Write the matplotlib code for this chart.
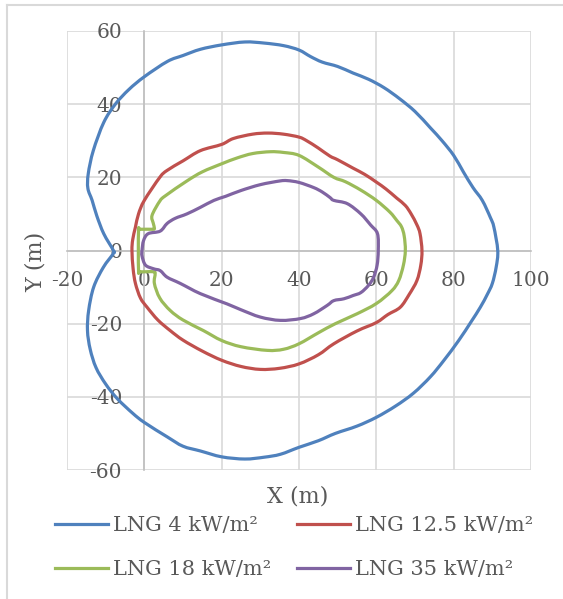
import numpy as np
import matplotlib
matplotlib.use("Agg")
import matplotlib.pyplot as plt
from matplotlib.lines import Line2D
from matplotlib.path import Path
from matplotlib.patches import PathPatch

# thermal radiation contours (x, y in m), traced counterclockwise from the rightmost point
x_4 = [91.4, 90.4, 89.5, 87.4, 85, 82.5, 80, 77, 74, 70, 66, 62, 58, 54, 50, 46, 43, 40, 36, 31, 26,
       20, 14.5, 10, 6, 0, -4, -7.5, -10.5, -13.2, -14.5, -14.6, -13.5, -12.3, -10.5, -8,
       -8, -10.6, -13.1, -14.4, -14.7, -14, -12.5, -10, -7, -3, 0, 6, 10, 14.5, 20, 26, 31, 35.2,
       40, 45, 49.4, 55, 60, 65, 69.6, 74, 77.5, 81.3, 84.5, 86.9, 88.7, 90, 91, 91.4]
y_4 = [0, 6.4, 9, 13.7, 17.2, 21.5, 26, 30, 33.5, 38, 41.5, 44.5, 46.8, 48.5, 50.3, 51.5, 53, 54.8, 56, 56.7, 57,
       56.2, 55, 53.3, 51.7, 47.5, 44, 40, 35, 27.3, 21, 17, 13.7, 9.5, 4.6, 0,
       -0.8, -4.6, -10, -16.4, -21.9, -27, -32, -36.5, -40.5, -44.5, -47, -51, -53.5, -54.8, -56.4, -57, -56.5, -55.7,
       -53.8, -52, -50, -48, -45.6, -42.5, -39, -34.5, -30, -24.6, -19.5, -15.5, -12, -9, -4.5, 0]

x_12 = [71.8, 71.3, 70.5, 69, 67.5, 65.3, 62.5, 60, 57, 54, 50, 48, 45, 42, 40, 36, 32, 28, 23, 20, 14.5,
        10, 5.9, 4, 0, -1.5, -2.3, -3, -3.2,
        -2.9, -2.3, -1, 0.7, 3.5, 6.7, 10, 15, 20, 25, 30, 35, 40, 45, 49, 55, 60, 63, 66.2, 68.5, 70.5, 71.5, 71.8]
y_12 = [0, 4.6, 7, 10, 12.3, 14.3, 16.8, 18.7, 20.8, 22.5, 24.8, 25.8, 28, 30, 31, 31.8, 32.1, 31.8, 30.6, 29, 27.3,
        24.5, 21.9, 20, 13.7, 10, 6.4, 3, 0,
        -5, -9, -13, -15.5, -19, -21.9, -24.5, -27.5, -30, -31.7, -32.5, -32.2, -31, -28.5, -25.5, -22, -19.7, -17.5, -15.5, -12, -8.2, -4, 0]

x_18 = [67.5, 67.2, 66.5, 65.3, 63.5, 60, 56, 52, 49, 45, 40, 36, 32.6, 28, 24, 20, 15, 11, 5.5, 4, 2, 2.3, 2.6, 2.2,
        -1.0, -1.5, -1.5, -1.0, 2.3, 2.8, 2.6, 4, 6.7, 10, 15.3, 20, 25, 31.8, 36, 40, 45, 49.4, 55, 60, 64, 65.8, 67, 67.5]
y_18 = [0, 4, 6.5, 8.2, 10.5, 13.7, 16.5, 18.8, 20, 22.8, 26, 26.8, 27, 26.5, 25.3, 23.7, 21.5, 19, 15, 13.5, 9.6, 7.5, 6.1, 5.8,
        5.8, 5.3, -5.3, -5.8, -5.8, -6.3, -9, -13, -16.4, -19, -21.9, -24.6, -26.3, -27.3, -27, -25.5, -22.5, -20, -17.3, -14.5, -11, -8.2, -4, 0]

x_35 = [60.5, 60.3, 58.5, 56, 52.5, 49, 48, 46, 43.8, 40, 37, 35, 30, 25, 21, 18, 14.5, 11, 8, 5.9, 4.1, 1, -0.2, -0.6,
        -0.6, 0.3, 2.4, 4.1, 5.9, 9.3, 14.5, 21.4, 25, 30, 35.2, 40.4, 43.8, 47.3, 49, 51.6, 54, 56, 58, 59.3, 60.2, 60.5]
y_35 = [0, 4.6, 7, 10, 12.8, 13.7, 14.5, 16, 17.2, 18.6, 19.1, 19, 18, 16.4, 14.8, 13.7, 11.8, 10, 8.8, 7.4, 5.3, 4.6, 2.7, 0,
        -1.5, -4, -5, -5.5, -7.3, -9, -11.8, -14.6, -16.2, -18.2, -19.1, -18.6, -17.3, -15, -13.7, -13.2, -12.3, -11.5, -9.5, -7.3, -4, 0]

labels = ["LNG 4 kW/m²", "LNG 12.5 kW/m²", "LNG 18 kW/m²", "LNG 35 kW/m²"]
colors = ["#4F81BD", "#C0504D", "#9BBB59", "#8064A2"]
x_ticks = [-20, 0, 20, 40, 60, 80, 100]
y_ticks = [-60, -40, -20, 0, 20, 40, 60]


def smooth_closed(xs, ys):
    # Excel-style smoothed line: Catmull-Rom segments as cubic Beziers
    pts = np.column_stack([xs, ys])[:-1]
    n = len(pts)
    verts = [pts[0]]
    codes = [Path.MOVETO]
    for i in range(n):
        p0, p1, p2, p3 = pts[i - 1], pts[i], pts[(i + 1) % n], pts[(i + 2) % n]
        verts += [p1 + (p2 - p0) / 6, p2 - (p3 - p1) / 6, p2]
        codes += [Path.CURVE4] * 3
    return Path(verts, codes)


plt.rcParams["font.family"] = ["DejaVu Serif"]
plt.rcParams["axes.unicode_minus"] = False
txt = "#595959"
grid_c = "#D9D9D9"

fig = plt.figure(figsize=(5.63, 5.99), dpi=100)
ax = fig.add_axes([67 / 563, 1 - 470 / 599, 464 / 563, 439 / 599])

handles = []
for xs, ys, c, lab in zip([x_4, x_12, x_18, x_35], [y_4, y_12, y_18, y_35], colors, labels):
    ax.add_patch(PathPatch(smooth_closed(xs, ys), fill=False, edgecolor=c, lw=2.3,
                           joinstyle="round", zorder=3))
    handles.append(Line2D([], [], color=c, lw=2.3, label=lab))

ax.set_xlim(-20, 100)
ax.set_ylim(-60, 60)
ax.set_xticks(x_ticks)
ax.set_yticks(y_ticks)
ax.grid(True, color=grid_c, lw=1.2, zorder=0)
ax.set_axisbelow(True)

for side in ["top", "right"]:
    ax.spines[side].set_visible(False)
ax.spines["left"].set_position(("data", 0))
ax.spines["bottom"].set_position(("data", 0))
for side in ["left", "bottom"]:
    ax.spines[side].set_color("#BFBFBF")
    ax.spines[side].set_linewidth(1.2)
ax.tick_params(axis="both", length=0, labelsize=14.5, labelcolor=txt)
ax.tick_params(axis="x", pad=15)
ax.tick_params(axis="y", pad=16)

fig.text(298 / 563, 1 - 497 / 599, "X (m)", ha="center", va="center", fontsize=16, color=txt)
fig.text(36 / 563, 1 - 262 / 599, "Y (m)", ha="center", va="center", rotation=90, fontsize=16, color=txt)

# legend, filled row by row
order = [0, 2, 1, 3]
fig.legend([handles[i] for i in order], [labels[i] for i in order], ncol=2,
           loc="upper left", bbox_to_anchor=(55 / 563, 1 - 516 / 599), frameon=False,
           fontsize=15, labelcolor=txt, handlelength=2.55, handletextpad=0.25,
           columnspacing=1.2, labelspacing=1.2, borderpad=0, borderaxespad=0)

# chart border (partly cropped in the reference)
fig.add_artist(Line2D([7 / 563, 1], [1 - 5 / 599, 1 - 5 / 599], color=grid_c, lw=1.5))
fig.add_artist(Line2D([7 / 563, 7 / 563], [0, 1 - 5 / 599], color=grid_c, lw=1.5))

fig.savefig("out.png", dpi=100)
